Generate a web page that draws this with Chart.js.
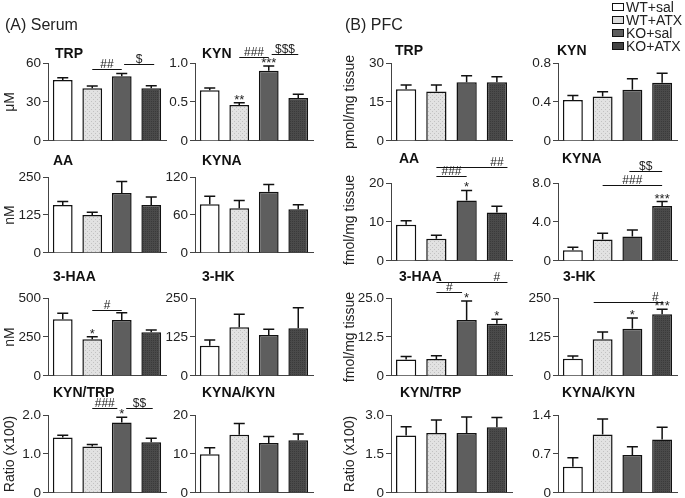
<!DOCTYPE html>
<html>
<head>
<meta charset="utf-8">
<script src="https://cdn.jsdelivr.net/npm/chart.js@4.4.0/dist/chart.umd.min.js"></script>
<style>
  body { margin: 0; background: #fff; width: 685px; height: 498px; position: relative; overflow: hidden;
         font-family: Arial, "Liberation Sans", sans-serif; color: #222; }
  canvas { position: absolute; }
  .t { position: absolute; white-space: nowrap; line-height: 16px; }
  .title { font-weight: bold; font-size: 14px; color: #111; }
  .panel { font-size: 16px; line-height: 18px; }
  .ylab { font-size: 14px; transform: translate(-50%, -50%) rotate(-90deg); }
  .leg { position: absolute; font-size: 14px; line-height: 14px; white-space: nowrap; }
  .leg i { display: inline-block; width: 10px; height: 6px; border: 1.5px solid #111; margin-right: 2px; vertical-align: 1px; }
</style>
</head>
<body>

<script>
// Groups (legend order)
const groups = ['WT+sal', 'WT+ATX', 'KO+sal', 'KO+ATX'];

// ---- Serum: means and SEM ----
const serumTRP = [47, 40.5, 49.8, 40.5];
const serumTRPsem = [1.7, 1.8, 2.2, 2.0];
const serumKYN = [0.65, 0.46, 0.90, 0.55];
const serumKYNsem = [0.03, 0.03, 0.06, 0.05];
const serumAA = [158, 125, 197, 158];
const serumAAsem = [11, 9, 38, 26];
const serumKYNA = [77, 70.6, 96.8, 69];
const serumKYNAsem = [12.5, 12.4, 11.2, 7];
const serumHAA = [363, 235, 359, 280];
const serumHAAsem = [39, 17, 47, 15];
const serumHK = [97, 156, 131, 153];
const serumHKsem = [18, 42, 19, 66];
const serumKynTrp = [1.42, 1.19, 1.81, 1.30];
const serumKynTrpSem = [0.06, 0.05, 0.13, 0.10];
const serumKynaKyn = [9.9, 14.9, 12.8, 13.5];
const serumKynaKynSem = [1.7, 2.9, 1.7, 1.6];

// ---- PFC: means and SEM ----
const pfcTRP = [19.9, 19.0, 22.6, 22.6];
const pfcTRPsem = [1.6, 2.5, 2.5, 2.1];
const pfcKYN = [0.42, 0.455, 0.526, 0.598];
const pfcKYNsem = [0.045, 0.05, 0.113, 0.097];
const pfcAA = [9.3, 5.7, 15.5, 12.4];
const pfcAAsem = [1.0, 0.9, 2.6, 1.6];
const pfcKYNA = [1.1, 2.2, 2.5, 5.64];
const pfcKYNAsem = [0.3, 0.64, 0.68, 0.45];
const pfcHAA = [5.3, 5.4, 17.9, 16.7];
const pfcHAAsem = [0.9, 1.1, 6.1, 1.5];
const pfcHK = [55, 118, 151, 198];
const pfcHKsem = [9, 23, 35, 16];
const pfcKynTrp = [2.21, 2.31, 2.31, 2.53];
const pfcKynTrpSem = [0.34, 0.5, 0.61, 0.37];
const pfcKynaKyn = [0.47, 1.05, 0.68, 0.96];
const pfcKynaKynSem = [0.16, 0.28, 0.15, 0.22];

// y tick labels
const ticksSerumTRP = ['0', '30', '60'];
const ticksSerumKYN = ['0', '0.5', '1.0'];
const ticksSerumAA = ['0', '125', '250'];
const ticksSerumKYNA = ['0', '60', '120'];
const ticksSerumHAA = ['0', '250', '500'];
const ticksSerumHK = ['0', '125', '250'];
const ticksSerumKynTrp = ['0', '1.0', '2.0'];
const ticksSerumKynaKyn = ['0', '10', '20'];
const ticksPfcTRP = ['0', '15', '30'];
const ticksPfcKYN = ['0', '0.4', '0.8'];
const ticksPfcAA = ['0', '10', '20'];
const ticksPfcKYNA = ['0', '4.0', '8.0'];
const ticksPfcHAA = ['0', '12.5', '25.0'];
const ticksPfcHK = ['0', '125', '250'];
const ticksPfcKynTrp = ['0', '1.5', '3.0'];
const ticksPfcKynaKyn = ['0', '0.7', '1.4'];

// significance marks over bars
const starsSerumKYN = ['', '**', '***', ''];
const starsSerumHAA = ['', '*', '', ''];
const starsSerumKynTrp = ['', '', '*', ''];
const starsPfcAA = ['', '', '*', ''];
const starsPfcKYNA = ['', '', '', '***'];
const starsPfcHAA = ['', '', '*', '*'];
const starsPfcHK = ['', '', '*', '***'];

// comparison lines: [from bar, to bar, y value, label, label position]
const sigSerumTRP = [[1, 2, 55.4, '##'], [2.08, 3.1, 59.2, '$']];
const sigSerumKYN = [[1, 2, 1.077, '###'], [2.1, 3.0, 1.115, '$$$']];
const sigSerumHAA = [[1, 2, 423, '#']];
const sigSerumKynTrp = [[1, 1.85, 2.18, '###'], [2.15, 3.05, 2.18, '$$']];
const sigPfcAA = [[1, 2, 21.7, '###'], [1, 3.35, 24.2, '##', 3.0]];
const sigPfcKYNA = [[1, 3, 7.76, '###'], [1.9, 3, 9.2, '$$']];
const sigPfcHAA = [[1, 1.85, 27.0, '#'], [1, 3.35, 30.0, '#', 3.0]];
const sigPfcHK = [[0.7, 3.03, 238, '#', 2.77]];

// ---- layout ----
const colX = [[48, 166], [195, 313], [391, 512], [558, 677]];
const rowY = { serum: [[63, 141], [177, 253], [298, 376], [415, 493]],
               pfc:   [[63, 141], [183, 261], [298, 376], [415, 493]] };

const panels = [
  { id: 'sTRP', name: 'TRP', mean: serumTRP, sem: serumTRPsem, max: 60, ticks: ticksSerumTRP, sig: sigSerumTRP, col: 0, row: 0, tx: 55, ty: 53 },
  { id: 'sKYN', name: 'KYN', mean: serumKYN, sem: serumKYNsem, max: 1.0, ticks: ticksSerumKYN, stars: starsSerumKYN, sig: sigSerumKYN, col: 1, row: 0, tx: 202, ty: 53 },
  { id: 'sAA', name: 'AA', mean: serumAA, sem: serumAAsem, max: 250, ticks: ticksSerumAA, col: 0, row: 1, tx: 53, ty: 160 },
  { id: 'sKYNA', name: 'KYNA', mean: serumKYNA, sem: serumKYNAsem, max: 120, ticks: ticksSerumKYNA, col: 1, row: 1, tx: 202, ty: 160 },
  { id: 'sHAA', name: '3-HAA', mean: serumHAA, sem: serumHAAsem, max: 500, ticks: ticksSerumHAA, stars: starsSerumHAA, sig: sigSerumHAA, col: 0, row: 2, tx: 53, ty: 276 },
  { id: 'sHK', name: '3-HK', mean: serumHK, sem: serumHKsem, max: 250, ticks: ticksSerumHK, col: 1, row: 2, tx: 202, ty: 276 },
  { id: 'sKT', name: 'KYN/TRP', mean: serumKynTrp, sem: serumKynTrpSem, max: 2.0, ticks: ticksSerumKynTrp, stars: starsSerumKynTrp, sig: sigSerumKynTrp, col: 0, row: 3, tx: 53, ty: 392 },
  { id: 'sKK', name: 'KYNA/KYN', mean: serumKynaKyn, sem: serumKynaKynSem, max: 20, ticks: ticksSerumKynaKyn, col: 1, row: 3, tx: 202, ty: 392 },
  { id: 'pTRP', name: 'TRP', mean: pfcTRP, sem: pfcTRPsem, max: 30, ticks: ticksPfcTRP, col: 2, row: 0, tx: 395, ty: 50, pfc: true },
  { id: 'pKYN', name: 'KYN', mean: pfcKYN, sem: pfcKYNsem, max: 0.8, ticks: ticksPfcKYN, col: 3, row: 0, tx: 557, ty: 50, pfc: true },
  { id: 'pAA', name: 'AA', mean: pfcAA, sem: pfcAAsem, max: 20, ticks: ticksPfcAA, stars: starsPfcAA, sig: sigPfcAA, col: 2, row: 1, tx: 399, ty: 158, pfc: true },
  { id: 'pKYNA', name: 'KYNA', mean: pfcKYNA, sem: pfcKYNAsem, max: 8, ticks: ticksPfcKYNA, stars: starsPfcKYNA, sig: sigPfcKYNA, col: 3, row: 1, tx: 562, ty: 158, pfc: true },
  { id: 'pHAA', name: '3-HAA', mean: pfcHAA, sem: pfcHAAsem, max: 25, ticks: ticksPfcHAA, stars: starsPfcHAA, sig: sigPfcHAA, col: 2, row: 2, tx: 399, ty: 276, pfc: true },
  { id: 'pHK', name: '3-HK', mean: pfcHK, sem: pfcHKsem, max: 250, ticks: ticksPfcHK, stars: starsPfcHK, sig: sigPfcHK, col: 3, row: 2, tx: 563, ty: 276, pfc: true },
  { id: 'pKT', name: 'KYN/TRP', mean: pfcKynTrp, sem: pfcKynTrpSem, max: 3.0, ticks: ticksPfcKynTrp, col: 2, row: 3, tx: 400, ty: 392, pfc: true },
  { id: 'pKK', name: 'KYNA/KYN', mean: pfcKynaKyn, sem: pfcKynaKynSem, max: 1.4, ticks: ticksPfcKynaKyn, col: 3, row: 3, tx: 562, ty: 392, pfc: true }
];

const yLabels = [
  ['\u03bcM', 9, 102], ['nM', 9, 215], ['nM', 9, 337], ['Ratio (x100)', 9, 454],
  ['pmol/mg tissue', 349, 102], ['fmol/mg tissue', 349, 220], ['fmol/mg tissue', 349, 337], ['Ratio (x100)', 349, 454]
];

// little tiled fills for the textured bars
function makePattern(base, dot, cross) {
  const c = document.createElement('canvas');
  c.width = 4; c.height = 4;
  const g = c.getContext('2d');
  g.fillStyle = base; g.fillRect(0, 0, 4, 4);
  g.fillStyle = dot;
  g.fillRect(0, 0, 1, 1); g.fillRect(2, 2, 1, 1);
  if (cross) { g.fillRect(2, 0, 1, 1); g.fillRect(0, 2, 1, 1); }
  return g.createPattern(c, 'repeat');
}
const lightFill = makePattern('#e2e2e2', '#c2c2c2', false);
const darkFill = makePattern('#4a4a4a', '#3a3a3a', true);
const fills = ['#ffffff', lightFill, '#5e5e5e', darkFill];

function addText(cls, txt, x, y, extra) {
  const d = document.createElement('div');
  d.className = 't ' + cls;
  d.textContent = txt;
  d.style.left = x + 'px';
  d.style.top = y + 'px';
  if (extra) Object.assign(d.style, extra);
  document.body.appendChild(d);
  return d;
}

const byId = {};

// error bars, stars and comparison lines
const markPlugin = {
  id: 'marks',
  afterDatasetsDraw(chart) {
    const p = byId[chart.canvas.id];
    const ctx = chart.ctx, ys = chart.scales.y, xs = chart.scales.x;
    const meta = chart.getDatasetMeta(0);
    ctx.save();
    ctx.strokeStyle = '#111';
    ctx.fillStyle = '#222';
    ctx.lineWidth = 1.5;
    meta.data.forEach((bar, i) => {
      const top = ys.getPixelForValue(p.mean[i] + p.sem[i]);
      ctx.beginPath();
      ctx.moveTo(bar.x, bar.y);
      ctx.lineTo(bar.x, top);
      ctx.moveTo(bar.x - 5.5, top);
      ctx.lineTo(bar.x + 5.5, top);
      ctx.stroke();
      if (p.stars && p.stars[i]) {
        ctx.font = '13px Arial';
        ctx.textAlign = 'center';
        ctx.textBaseline = 'alphabetic';
        ctx.fillText(p.stars[i], bar.x, top + 1);
      }
    });
    if (p.sig) {
      const x0 = xs.getPixelForValue(0);
      const step = xs.getPixelForValue(1) - x0;
      ctx.lineWidth = 1;
      p.sig.forEach(s => {
        const yy = Math.round(ys.getPixelForValue(s[2])) + 0.5;
        ctx.beginPath();
        ctx.moveTo(x0 + s[0] * step, yy);
        ctx.lineTo(x0 + s[1] * step, yy);
        ctx.stroke();
        const tx = s[4] !== undefined ? s[4] : (s[0] + s[1]) / 2;
        ctx.font = '12px Arial';
        ctx.textAlign = 'center';
        ctx.textBaseline = 'alphabetic';
        ctx.fillText(s[3], x0 + tx * step, yy - 1.5);
      });
    }
    ctx.restore();
  }
};

const PAD_TOP = 42, PAD_BOTTOM = 10, AXIS_W = 45, PAD_RIGHT = 4;

panels.forEach(p => {
  byId[p.id] = p;
  const [x1, x2] = colX[p.col];
  const [y1, y2] = (p.pfc ? rowY.pfc : rowY.serum)[p.row];
  const cv = document.createElement('canvas');
  cv.id = p.id;
  cv.width = x2 - x1 + AXIS_W + PAD_RIGHT;
  cv.height = y2 - y1 + PAD_TOP + PAD_BOTTOM;
  cv.style.left = (x1 - AXIS_W) + 'px';
  cv.style.top = (y1 - PAD_TOP) + 'px';
  document.body.appendChild(cv);

  addText('title', p.name, p.tx, p.ty - 8);

  new Chart(cv.getContext('2d'), {
    type: 'bar',
    data: {
      labels: groups,
      datasets: [{
        data: p.mean,
        backgroundColor: fills,
        borderColor: '#111',
        borderWidth: 1.5,
        borderSkipped: 'bottom',
        barPercentage: 0.67,
        categoryPercentage: 1.0
      }]
    },
    options: {
      responsive: false,
      animation: false,
      devicePixelRatio: 1,
      layout: { padding: { top: PAD_TOP, bottom: PAD_BOTTOM, left: 0, right: PAD_RIGHT } },
      plugins: { legend: { display: false }, tooltip: { enabled: false } },
      scales: {
        x: {
          grid: { display: false },
          ticks: { display: false },
          border: { display: true, color: '#444', width: 1 },
          afterFit: s => { s.height = 0; }
        },
        y: {
          min: 0,
          max: p.max,
          afterFit: s => { s.width = AXIS_W; },
          ticks: {
            stepSize: p.max / 2,
            color: '#222',
            padding: 2,
            font: { family: 'Arial', size: 13.5 },
            callback: (v, i) => p.ticks[i]
          },
          grid: { drawOnChartArea: false, drawTicks: true, tickLength: 5, color: '#444' },
          border: { display: true, color: '#444', width: 1 }
        }
      }
    },
    plugins: [markPlugin]
  });
});

// panel headings
addText('panel', '(A) Serum', 5, 16);
addText('panel', '(B) PFC', 345, 16);

// axis titles
yLabels.forEach(l => addText('ylab', l[0], l[1], l[2], { fontSize: '14px' }));

// legend
const legendRows = [7, 20, 33, 46];
groups.forEach((g, i) => {
  const d = document.createElement('div');
  d.className = 'leg';
  d.style.left = '612px';
  d.style.top = (legendRows[i] - 7) + 'px';
  const sw = document.createElement('i');
  sw.style.background = ['#ffffff', '#dcdcdc', '#5e5e5e', '#444444'][i];
  d.appendChild(sw);
  d.appendChild(document.createTextNode(g));
  document.body.appendChild(d);
});
</script>
</body>
</html>
